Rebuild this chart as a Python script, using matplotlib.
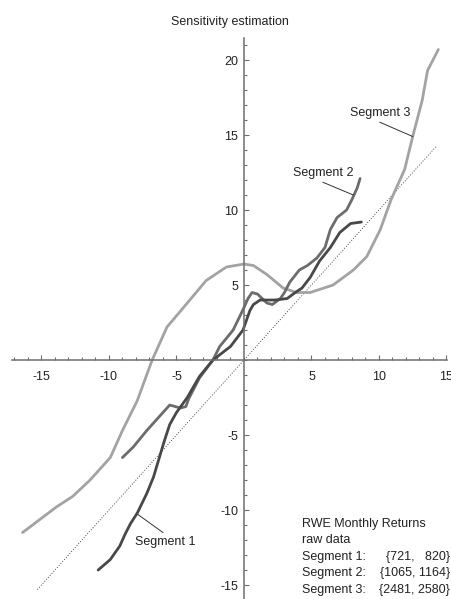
import matplotlib
matplotlib.use("Agg")
import matplotlib.pyplot as plt
from matplotlib.ticker import FixedLocator

plt.rcParams['font.family'] = ['Liberation Sans', 'DejaVu Sans']

# ---- data ----
seg1_x = [-10.8, -9.9, -9.2, -8.8, -8.4, -7.9, -7.2, -6.7, -6.3, -5.9, -5.5, -5.0, -4.2,
          -3.3, -2.3, -1.0, -0.07, 0.44, 0.7, 1.2, 1.7, 2.3, 3.2, 3.8, 4.3, 4.9, 5.6,
          6.4, 7.1, 7.9, 8.7]
seg1_y = [-14.0, -13.3, -12.4, -11.6, -10.9, -10.2, -8.9, -7.8, -6.6, -5.4, -4.3, -3.5, -2.5,
          -1.1, 0.0, 0.9, 2.0, 3.3, 3.7, 4.0, 4.0, 4.0, 4.1, 4.5, 4.8, 5.5, 6.6,
          7.5, 8.5, 9.1, 9.2]

seg2_x = [-9.0, -8.2, -7.2, -6.5, -6.0, -5.5, -4.7, -4.3, -4.1, -3.3, -2.3, -1.8, -0.8,
          -0.1, 0.3, 0.6, 1.0, 1.7, 2.1, 2.7, 3.0, 3.4, 4.1, 4.7, 5.4, 6.0, 6.4, 6.9,
          7.6, 8.0, 8.4, 8.6]
seg2_y = [-6.5, -5.8, -4.7, -4.0, -3.5, -3.0, -3.2, -3.1, -2.6, -1.2, 0.0, 0.9, 2.0,
          3.3, 4.1, 4.5, 4.4, 3.8, 3.7, 4.1, 4.5, 5.2, 6.0, 6.3, 6.8, 7.5, 8.7, 9.5,
          10.0, 10.7, 11.5, 12.1]

seg3_x = [-16.4, -13.9, -12.7, -11.4, -9.9, -9.0, -7.9, -6.8, -5.7, -4.2, -2.8, -1.3, 0.0,
          0.7, 1.7, 2.9, 3.9, 4.9, 6.6, 8.1, 9.1, 10.1, 10.9, 11.9, 12.5, 13.2, 13.6, 14.4]
seg3_y = [-11.5, -9.8, -9.1, -8.0, -6.5, -4.7, -2.7, 0.0, 2.2, 3.8, 5.3, 6.2, 6.4,
          6.3, 5.7, 4.8, 4.5, 4.5, 5.0, 6.0, 6.9, 8.7, 10.7, 12.7, 14.9, 17.3, 19.3, 20.7]

diag_x = [-15.3, 14.3]
diag_y = [-15.3, 14.3]

x_major = [-15, -10, -5, 5, 10, 15]
y_major = [-15, -10, -5, 5, 10, 15, 20]
x_minor = list(range(-17, 16))
y_minor = list(range(-15, 22))

title = "Sensitivity estimation"
seg_labels = ["Segment 1", "Segment 2", "Segment 3"]
legend_lines = ["RWE Monthly Returns", "raw data"]
legend_names = ["Segment 1:", "Segment 2:", "Segment 3:"]
legend_ranges = ["{721,   820}", "{1065, 1164}", "{2481, 2580}"]

# ---- figure ----
fig = plt.figure(figsize=(4.52, 5.99), dpi=100)
ax = fig.add_axes([0, 0, 1, 1])
ax.set_xlim(-18.07, 15.41)
ax.set_ylim(-15.93, 24.0)
ax.patch.set_alpha(0)

axis_col = "#6e6e6e"
txt_col = "#222222"
fs = 9
for s in ["top", "right"]:
    ax.spines[s].set_visible(False)
ax.spines["left"].set_position(("data", 0))
ax.spines["bottom"].set_position(("data", 0))
ax.spines["left"].set_bounds(-15.93, 21.5)
ax.spines["bottom"].set_bounds(-17.2, 15.05)
for s in ["left", "bottom"]:
    ax.spines[s].set_color(axis_col)
    ax.spines[s].set_linewidth(1.1)

ax.xaxis.set_major_locator(FixedLocator(x_major))
ax.yaxis.set_major_locator(FixedLocator(y_major))
ax.xaxis.set_minor_locator(FixedLocator(x_minor))
ax.yaxis.set_minor_locator(FixedLocator(y_minor))
ax.tick_params(which="both", direction="in", color=axis_col, width=0.8)
ax.tick_params(which="major", length=3.5)
ax.tick_params(which="minor", length=2)
ax.tick_params(axis="x", which="major", pad=8, labelsize=fs, labelcolor=txt_col)
ax.tick_params(axis="y", which="major", pad=4, labelsize=fs, labelcolor=txt_col)
ax.set_xticklabels([str(v) for v in x_major])
ax.set_yticklabels([str(v) for v in y_major])

# diagonal reference
ax.plot(diag_x, diag_y, color="#333333", lw=0.6, ls=(0, (1.2, 2.0)))

# curves
kw = dict(lw=2.0, solid_joinstyle="round", solid_capstyle="round")
ax.plot(seg3_x, seg3_y, color="#a3a3a3", **kw)
ax.plot(seg2_x, seg2_y, color="#6c6c6c", **kw)
ax.plot(seg1_x, seg1_y, color="#484848", **kw)

# segment labels with leader lines
ax.text(-5.85, -12.15, seg_labels[0], ha="center", va="center", fontsize=fs, color=txt_col)
ax.plot([-6.0, -7.85], [-11.5, -10.3], color="#333333", lw=0.7)
ax.text(5.85, 12.5, seg_labels[1], ha="center", va="center", fontsize=fs, color=txt_col)
ax.plot([5.85, 8.1], [11.85, 11.0], color="#333333", lw=0.7)
ax.text(10.07, 16.5, seg_labels[2], ha="center", va="center", fontsize=fs, color=txt_col)
ax.plot([10.07, 12.5], [15.85, 14.9], color="#333333", lw=0.7)

# title
fig.text(230 / 452, 1 - 22 / 599, title, ha="center", va="center", fontsize=fs, color=txt_col)

# legend block
lx = 4.3
ly0 = -10.93
dy = 1.1
for i, t in enumerate(legend_lines):
    ax.text(lx, ly0 - i * dy, t, ha="left", va="center", fontsize=fs, color=txt_col)
for j, (n, r) in enumerate(zip(legend_names, legend_ranges)):
    yy = ly0 - (j + 2) * dy
    ax.text(lx, yy, n, ha="left", va="center", fontsize=fs, color=txt_col)
    ax.text(15.25, yy, r, ha="right", va="center", fontsize=fs, color=txt_col)

fig.savefig("out.png", dpi=100, facecolor="white")
